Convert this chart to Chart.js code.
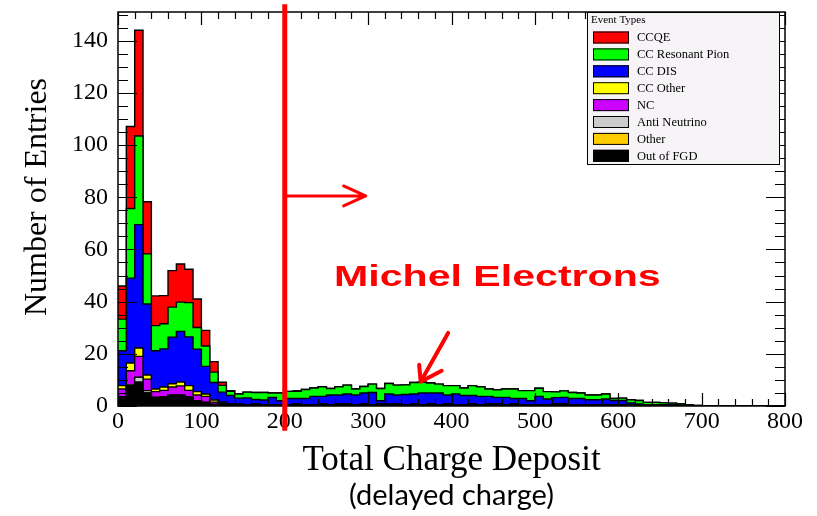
<!DOCTYPE html>
<html><head><meta charset="utf-8">
<script src="https://cdn.jsdelivr.net/npm/chart.js@4/dist/chart.umd.min.js"></script>
<style>html,body{margin:0;padding:0;background:#fff;overflow:hidden}#wrap{width:817px;height:516px}</style>
</head><body><div id="wrap"><canvas id="c" width="817" height="516"></canvas></div>
<script>
// Bin lower edges (Total Charge Deposit), 10 units per bin, plus the final upper edge 800
const binEdges = [0,10,20,30,40,50,60,70,80,90,100,110,120,130,140,150,160,170,180,190,
  200,210,220,230,240,250,260,270,280,290,300,310,320,330,340,350,360,370,380,390,
  400,410,420,430,440,450,460,470,480,490,500,510,520,530,540,550,560,570,580,590,
  600,610,620,630,640,650,660,670,680,690,700,710,720,730,740,750,760,770,780,790,800];

// Stacked components, bottom to top (entries per bin)
const outOfFGD = [3.4,7.8,9.1,5.0,3.3,3.4,4.1,4.1,3.4,2.0,1.4,0.6,0.9,0.6,0.5,0.5,0.5,0.5,0.5,0.5,
  0.5,0.5,0.5,0.5,0.5,0.5,0.5,0.5,0.5,0.5,0.5,0.5,0.5,0.5,0.5,0.5,0.5,0.5,0.5,0.5,
  0.5,0.5,0.5,0.5,0.5,0.5,0.5,0.5,0.5,0.5,0.5,0.5,0.5,0.5,0.5,0.5,0.5,0.5,0.5,0.5,
  0.5,0.5,0.3,0.3,0.3,0.3,0.3,0.2,0.2,0.1,0,0,0,0,0,0,0,0,0,0];
const otherEv = [0,0,0,0,0,0,0,0,0,0,0,0,0,0,0,0,0,0,0,0,
  0,0,0,0,0,0,0,0,0,0,0,0,0,0,0,0,0,0,0,0,
  0,0,0,0,0,0,0,0,0,0,0,0,0,0,0,0,0,0,0,0,
  0,0,0,0,0,0,0,0,0,0,0,0,0,0,0,0,0,0,0,0];
const antiNeutrino = [0,0.3,1.9,0.9,0,0,0,0,0,0,0,0,0,0,0,0,0,0,0,0,
  0,0,0,0,0,0,0,0,0,0,0,0,0,0,0,0,0,0,0,0,
  0,0,0,0,0,0,0,0,0,0,0,0,0,0,0,0,0,0,0,0,
  0,0,0,0,0,0,0,0,0,0,0,0,0,0,0,0,0,0,0,0];
const ncEv = [3.1,5.4,8.0,4.4,2.2,2.6,3.2,3.6,2.6,2.2,2.3,0.9,0.3,0,0,0,0,0,0,0,
  0,0,0,0,0,0,0,0,0,0,0,0.3,0.2,0,0,0,0,0,0,0,
  0,0,0,0,0.3,0,0,0,0,0,0,0,0,0,0,0,0,0,0,0,
  0,0,0,0,0,0,0,0,0,0,0,0,0,0,0,0,0,0,0,0];
const ccOther = [1.3,3.0,3.2,1.6,1.0,1.3,1.2,1.5,1.8,1.3,0.9,0.8,0.3,0.2,0.3,0,0.4,0,0,0,
  0,0.4,0,0,0.4,0,0.4,0.4,0,0.4,0,0,0,0.4,0,0.4,0,0.4,0,0.4,
  0,0,0.4,0,0,0.4,0,0.4,0,0,0,0,0.4,0.4,0,0,0,0,0,0,
  0,0,0,0,0,0,0,0,0,0,0,0,0,0,0,0,0,0,0,0];
const ccDIS = [13.4,32.5,47.3,27.2,14.7,14.6,17.9,19.4,18.7,16.3,10.6,6.7,3.8,3.2,2.2,2.6,1.6,1.8,2.8,1.5,
  2.4,2.0,2.4,3.2,2.8,3.7,3.3,3.7,3.7,4.1,4.7,1.2,3.9,3.3,3.9,3.7,4.5,4.1,4.5,3.3,
  4.1,3.5,3.1,3.2,2.9,2.4,2.8,2.0,2.4,1.5,3.2,2.2,2.3,2.4,2.4,2.4,1.9,1.9,2.2,1.6,
  1.6,0.7,0.5,0.1,0,0.1,0,0,0,0,0,0,0,0,0,0,0,0,0,0];
const ccResPion = [12.1,26.7,34.0,19.2,9.6,9.6,11.5,11.2,13.1,8.3,7.8,4.0,2.6,1.6,1.6,2.2,2.7,2.9,1.7,3.0,
  2.7,2.7,3.4,3.2,3.7,2.5,3.2,3.4,2.3,2.5,3.2,4.7,4.0,3.8,3.7,4.4,4.1,3.8,3.4,3.6,
  3.2,2.9,3.8,3.7,2.8,2.9,3.2,3.6,3.0,3.9,3.1,2.8,2.2,2.5,2.3,2.1,1.8,1.8,1.9,0.8,
  0.9,1.2,1.3,1.0,1.1,0.8,0.8,0.6,0.2,0.1,0,0,0,0,0,0,0,0,0,0];
const ccqe = [12.7,31.4,40.5,20.0,11.4,10.8,14.0,14.6,12.8,10.9,6.0,4.0,1.2,0.3,0,0,0,0,0,0,
  0,0.3,0,0,0,0,0,0,0,0,0,0,0,0,0,0,0,0,0,0,
  0,0,0,0,0,0,0,0,0,0,0,0,0,0,0,0,0,0,0,0,
  0,0,0,0,0,0,0,0,0,0,0,0,0,0,0,0,0,0,0,0];

const seriesNames = ['Out of FGD','Other','Anti Neutrino','NC','CC Other','CC DIS','CC Resonant Pion','CCQE'];
const seriesColors = ['#000000','#ffcc00','#cccccc','#cc00ff','#ffff00','#0000ff','#00ff00','#ff0000'];
const seriesValues = [outOfFGD, otherEv, antiNeutrino, ncEv, ccOther, ccDIS, ccResPion, ccqe];

const yTicks = [0,20,40,60,80,100,120,140];
const xTicks = [0,100,200,300,400,500,600,700,800];
const yMax = 151;
const cutValue = 200;           // Michel electron cut (red line)
const arrow1 = {from:[200,80.5], to:[297,80.5]};
const arrow2 = {from:[396,28], to:[363,9.3]};
const michelLabel = {x:455, y:49.2, text:'Michel Electrons'};

function toPoints(vals){
  const pts = vals.map((v,i)=>({x:binEdges[i], y:v}));
  pts.push({x:binEdges[binEdges.length-1], y:vals[vals.length-1]});
  return pts;
}

const datasets = seriesValues.map((vals,i)=>({
  label: seriesNames[i],
  data: toPoints(vals),
  backgroundColor: seriesColors[i],
  borderColor: '#000',
  borderWidth: 1.4,
  pointRadius: 0,
  stepped: 'before',
  fill: i===0 ? 'origin' : '-1'
}));

const SERIF = "'Liberation Serif','Times New Roman',serif";

const rootFrame = {
  id:'rootFrame',
  afterDatasetsDraw(chart){
    const {ctx, chartArea:a, scales:{x,y}} = chart;
    ctx.save();
    ctx.strokeStyle = '#000'; ctx.lineWidth = 1.2;
    ctx.beginPath();
    for(let v=0; v<=800; v+=20){
      const px = Math.round(x.getPixelForValue(v))+0.5;
      const len = (v%100===0)?13:7;
      ctx.moveTo(px,a.bottom); ctx.lineTo(px,a.bottom-len);
      ctx.moveTo(px,a.top); ctx.lineTo(px,a.top+len);
    }
    for(let v=0; v<=150; v+=5){
      const py = Math.round(y.getPixelForValue(v))+0.5;
      const len = (v%20===0)?19:10;
      ctx.moveTo(a.left,py); ctx.lineTo(a.left+len,py);
      ctx.moveTo(a.right,py); ctx.lineTo(a.right-len,py);
    }
    ctx.stroke();
    ctx.lineWidth = 1.5;
    ctx.strokeRect(a.left, a.top, a.right-a.left, a.bottom-a.top);
    ctx.restore();
  },
  afterDraw(chart){
    const {ctx, chartArea:a, scales:{x,y}} = chart;
    ctx.save();
    // Legend box
    const L = a.right-198, T = a.top, W = 192, H = 152;
    ctx.fillStyle = '#f7f4f7'; ctx.fillRect(L,T,W,H);
    ctx.strokeStyle = '#000'; ctx.lineWidth = 1; ctx.strokeRect(L+0.5,T+0.5,W,H);
    ctx.fillStyle = '#000'; ctx.font = "11px "+SERIF; ctx.textBaseline='middle'; ctx.textAlign='left';
    ctx.fillText('Event Types', L+4, T+8);
    ctx.font = "12.5px "+SERIF;
    for(let k=0;k<seriesNames.length;k++){
      const i = seriesNames.length-1-k;
      const cy = T+25.5+k*16.9;
      ctx.fillStyle = seriesColors[i]; ctx.fillRect(L+6, cy-6, 36, 12);
      ctx.strokeStyle='#000'; ctx.lineWidth=1; ctx.strokeRect(L+6.5, cy-5.5, 35, 11);
      ctx.fillStyle='#000'; ctx.fillText(seriesNames[i], L+50, cy+0.5);
    }
    // Red cut line
    ctx.strokeStyle = '#ff0000'; ctx.lineCap='butt';
    ctx.lineWidth = 5;
    const cx = x.getPixelForValue(cutValue);
    ctx.beginPath(); ctx.moveTo(cx, y.getPixelForValue(154)); ctx.lineTo(cx, y.getPixelForValue(-9.5)); ctx.stroke();
    // Arrow 1 (horizontal)
    ctx.lineWidth = 3; ctx.lineCap='round'; ctx.lineJoin='round';
    let x1=x.getPixelForValue(arrow1.from[0]), y1=y.getPixelForValue(arrow1.from[1]);
    let x2=x.getPixelForValue(arrow1.to[0]), y2=y.getPixelForValue(arrow1.to[1]);
    ctx.beginPath(); ctx.moveTo(x1,y1); ctx.lineTo(x2,y2);
    ctx.moveTo(x2-22,y2-10); ctx.lineTo(x2,y2); ctx.lineTo(x2-22,y2+10); ctx.stroke();
    // Arrow 2 (diagonal)
    ctx.lineWidth = 4;
    x1=x.getPixelForValue(arrow2.from[0]); y1=y.getPixelForValue(arrow2.from[1]);
    x2=x.getPixelForValue(arrow2.to[0]); y2=y.getPixelForValue(arrow2.to[1]);
    ctx.beginPath(); ctx.moveTo(x1,y1); ctx.lineTo(x2,y2);
    ctx.moveTo(x2-1.5,y2-17); ctx.lineTo(x2,y2); ctx.lineTo(x2+21,y2-11); ctx.stroke();
    // Label
    ctx.fillStyle = '#ff0000';
    ctx.font = "bold 30px 'Liberation Sans', Arial, sans-serif";
    ctx.textAlign='center'; ctx.textBaseline='middle';
    ctx.translate(x.getPixelForValue(michelLabel.x), y.getPixelForValue(michelLabel.y));
    ctx.scale(1.37,1);
    ctx.fillText(michelLabel.text, 0, 0);
    ctx.restore();
  }
};

new Chart(document.getElementById('c'), {
  type:'line',
  data:{datasets},
  plugins:[rootFrame],
  options:{
    responsive:false, animation:false, devicePixelRatio:1,
    layout:{padding:{left:0,right:32,top:12,bottom:0}},
    plugins:{
      legend:{display:false}, tooltip:{enabled:false},
      subtitle:{display:true, position:'bottom', fullSize:false, text:'(delayed charge)', color:'#000',
        font:{family:"Lato,'Noto Sans',sans-serif", size:29, weight:'normal', lineHeight:1}, padding:{top:0,bottom:6}},
      title:{display:false}
    },
    elements:{line:{tension:0}},
    scales:{
      x:{type:'linear', min:0, max:800,
        afterFit(s){ s.height = 75; s.paddingLeft = 0; s.paddingRight = 0; },
        afterBuildTicks(s){ s.ticks = xTicks.map(v=>({value:v})); },
        grid:{display:false, drawTicks:false}, border:{display:false},
        ticks:{color:'#000', padding:1, maxRotation:0, font:{family:SERIF, size:24}},
        title:{display:true, text:'Total Charge Deposit', color:'#000', font:{family:SERIF, size:35, lineHeight:1}, padding:{top:0,bottom:3}}
      },
      y:{type:'linear', min:0, max:yMax, stacked:true,
        afterFit(s){ s.width = 118; s.paddingTop = 0; s.paddingBottom = 0; },
        afterBuildTicks(s){ s.ticks = yTicks.map(v=>({value:v})); },
        grid:{display:false, drawTicks:false}, border:{display:false},
        ticks:{color:'#000', padding:10, font:{family:SERIF, size:24}},
        title:{display:true, text:'   Number of Entries', color:'#000', font:{family:SERIF, size:32, lineHeight:1}, padding:{top:22,bottom:0}}
      }
    }
  }
});
</script></body></html>
